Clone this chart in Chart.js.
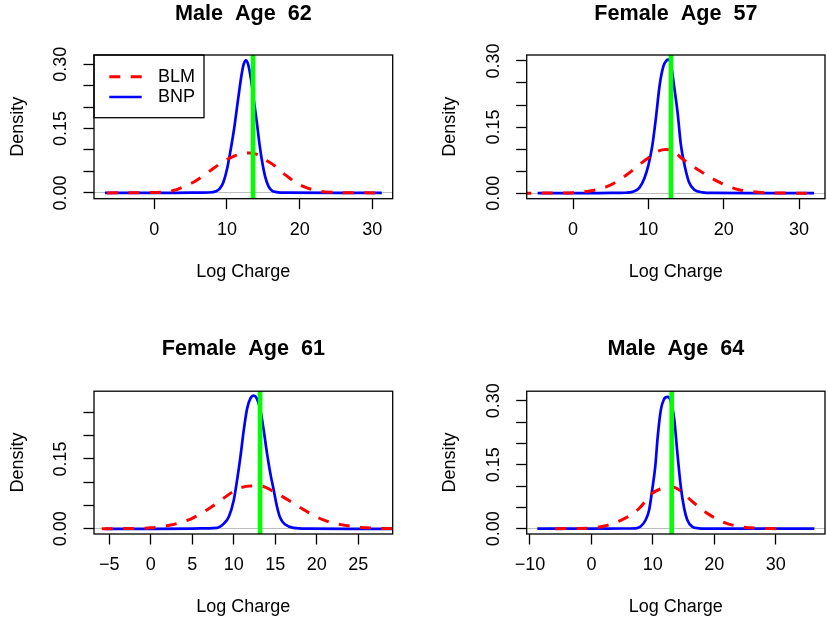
<!DOCTYPE html>
<html>
<head>
<meta charset="utf-8">
<script src="https://cdn.jsdelivr.net/npm/chart.js@4.4.1/dist/chart.umd.min.js"></script>
<style>
html,body{margin:0;padding:0;background:#fff;}
#wrap{position:relative;width:827px;height:625px;overflow:hidden;background:#fff;}
.pan{position:absolute;}
canvas{display:block;}
</style>
</head>
<body>
<div id="wrap">
  <div class="pan" style="left:0;top:0"><canvas id="c0" width="413" height="312"></canvas></div>
  <div class="pan" style="left:414px;top:0"><canvas id="c1" width="413" height="312"></canvas></div>
  <div class="pan" style="left:0;top:312px"><canvas id="c2" width="413" height="313"></canvas></div>
  <div class="pan" style="left:414px;top:312px"><canvas id="c3" width="413" height="313"></canvas></div>
</div>
<script>
// ---------------- data ----------------
const panelTitles = ['Male  Age  62', 'Female  Age  57', 'Female  Age  61', 'Male  Age  64'];
const seriesNames = ['BLM', 'BNP'];
const xAxisTitle = 'Log Charge';
const yAxisTitle = 'Density';
const observedLogCharge = [13.58, 13.0, 13.16, 13.07];

// Panel 1: Male Age 62
const bnpX1 = [-6.8, 0, 5, 7.5, 8.5, 9.0, 9.5, 10.0, 10.5, 11.0, 11.5, 12.0, 12.3, 12.6, 12.9, 13.3, 13.7, 14.1, 14.5, 14.9, 15.3, 15.7, 16.2, 16.8, 18, 25, 31.3];
const bnpY1 = [0, 0, 0.0005, 0.001, 0.004, 0.01, 0.025, 0.055, 0.10, 0.152, 0.215, 0.275, 0.300, 0.309, 0.300, 0.265, 0.215, 0.165, 0.11, 0.067, 0.035, 0.016, 0.005, 0.002, 0.0005, 0, 0];
const blmX1 = [-6.5, -3, 0, 2.5, 4.5, 5.5, 7, 8.2, 9.5, 10.9, 12, 13.2, 14.4, 15.5, 16.5, 17.5, 18.5, 19.5, 20.5, 21.5, 22.8, 24.5, 27, 31];
const blmY1 = [0, 0.0003, 0.001, 0.005, 0.018, 0.026, 0.043, 0.058, 0.073, 0.085, 0.091, 0.093, 0.088, 0.075, 0.064, 0.049, 0.036, 0.023, 0.015, 0.009, 0.004, 0.0015, 0.0003, 0];

// Panel 2: Female Age 57
const bnpX2 = [-4.7, 0, 5, 7.0, 7.9, 8.8, 9.5, 10.0, 10.5, 11.0, 11.5, 12.0, 12.4, 12.7, 13.0, 13.4, 13.9, 14.3, 14.8, 15.4, 16.1, 17.2, 18.5, 25, 32];
const bnpY2 = [0, 0, 0.0005, 0.001, 0.003, 0.012, 0.035, 0.063, 0.105, 0.17, 0.245, 0.288, 0.301, 0.303, 0.293, 0.245, 0.18, 0.112, 0.064, 0.025, 0.008, 0.002, 0.0005, 0, 0];
const blmX2 = [-7, -3, 0, 2.6, 4.8, 7.0, 9.2, 10.0, 11.0, 12.3, 13.2, 14.5, 15.5, 16.7, 18, 19.4, 20.7, 22.0, 24.7, 28, 32];
const blmY2 = [0, 0.0003, 0.001, 0.006, 0.017, 0.04, 0.07, 0.08, 0.093, 0.099, 0.097, 0.078, 0.066, 0.052, 0.038, 0.025, 0.015, 0.008, 0.002, 0.0003, 0];

// Panel 3: Female Age 61
const bnpX3 = [-5.5, 0, 5, 6.8, 8.0, 8.8, 9.4, 10.0, 10.4, 10.8, 11.2, 11.6, 12.0, 12.4, 12.7, 13.2, 13.6, 14.0, 14.4, 14.8, 15.2, 15.6, 16.2, 17.2, 18.8, 25, 29.5];
const bnpY3 = [0, 0, 0.0005, 0.001, 0.002, 0.011, 0.026, 0.062, 0.105, 0.155, 0.212, 0.258, 0.280, 0.286, 0.282, 0.255, 0.212, 0.162, 0.119, 0.084, 0.048, 0.023, 0.009, 0.002, 0.0003, 0, 0];
const blmX3 = [-5.9, -3, 0, 2.4, 4.8, 6.8, 8.8, 10.4, 12.0, 13.2, 14.8, 16.8, 18.8, 20.8, 22.9, 25.3, 27.5, 30];
const blmY3 = [0, 0.0005, 0.002, 0.008, 0.021, 0.041, 0.066, 0.085, 0.092, 0.092, 0.080, 0.059, 0.037, 0.019, 0.009, 0.003, 0.001, 0.0003];

// Panel 4: Male Age 64
const bnpX4 = [-8.8, 0, 5, 7.2, 8.0, 8.85, 9.4, 9.9, 10.4, 10.8, 11.3, 11.8, 12.4, 12.9, 13.5, 14.0, 14.55, 15.1, 15.6, 16.4, 17.5, 20, 36.3];
const bnpY4 = [0, 0, 0.0005, 0.001, 0.005, 0.021, 0.044, 0.091, 0.146, 0.216, 0.278, 0.303, 0.309, 0.300, 0.255, 0.177, 0.099, 0.048, 0.021, 0.005, 0.001, 0, 0];
const blmX4 = [-5.9, -3, 0, 2.3, 5.0, 7.8, 9.9, 11.6, 12.9, 14.3, 16.4, 19.2, 21.9, 24.6, 27.3, 30.3];
const blmY4 = [0, 0.0005, 0.0016, 0.007, 0.021, 0.048, 0.083, 0.095, 0.099, 0.091, 0.064, 0.033, 0.013, 0.004, 0.001, 0];

// axis ranges and ticks
const xMins = [-8.3, -6.15, -6.84, -10.53];
const xMaxs = [32.8, 33.45, 29.14, 38.03];
const yMins = [-0.0135, -0.0125, -0.0112, -0.0124];
const yMaxs = [0.3214, 0.3135, 0.2955, 0.3224];
const xTickValues = [[0, 10, 20, 30], [0, 10, 20, 30], [-5, 0, 5, 10, 15, 20, 25], [-10, 0, 10, 20, 30]];
const yTickValues = [0, 0.05, 0.10, 0.15, 0.20, 0.25, 0.30];
const yLabelledTicks = [0, 0.15, 0.30];

// ---------------- styling / layout ----------------
const FONT = "'Liberation Sans', Arial, Helvetica, sans-serif";
Chart.defaults.font.family = FONT;
Chart.defaults.font.size = 18;
Chart.defaults.color = '#000';

const panelLayout = [
  {pl: 0,    pr: 20.3, pb: 29.2, tp: 0.74,  tb: 28.34, legend: true},
  {pl: 18.7, pr: 2,    pb: 29.2, tp: 0.74,  tb: 28.34, legend: false},
  {pl: 0,    pr: 20.3, pb: 6.9,  tp: 23.74, tb: 29.54, legend: false},
  {pl: 18.7, pr: 2,    pb: 6.9,  tp: 23.74, tb: 29.54, legend: false}
];

const bnpXs = [bnpX1, bnpX2, bnpX3, bnpX4];
const bnpYs = [bnpY1, bnpY2, bnpY3, bnpY4];
const blmXs = [blmX1, blmX2, blmX3, blmX4];
const blmYs = [blmY1, blmY2, blmY3, blmY4];

const RED_DASH = [11, 10.4];

const framePlugin = {
  id: 'frame',
  afterInit(chart) {
    const lg = chart.legend;
    if (lg && chart.options.plugins.legend.display) {
      const orig = lg.update;
      lg.update = function (w, h, m) { orig.call(this, w, h, m); this.width = 0; this.height = 0; };
    }
  },
  afterLayout(chart) {
    const lg = chart.legend;
    if (lg && chart.options.plugins.legend.display) {
      const ca = chart.chartArea;
      lg.left = ca.left + 13;
      lg.top = ca.top + 10.4;
      lg.right = ca.left + 101;
      lg.bottom = ca.top + 120;
      lg.width = lg.right - lg.left;
      lg.height = lg.bottom - lg.top;
    }
  },
  afterDraw(chart) {
    const ctx = chart.ctx, ca = chart.chartArea;
    ctx.save();
    ctx.strokeStyle = '#000';
    ctx.lineWidth = 1.3;
    ctx.setLineDash([]);
    ctx.strokeRect(ca.left, ca.top, ca.right - ca.left, ca.bottom - ca.top);
    if (chart.options.plugins.legend.display) {
      ctx.strokeRect(ca.left, ca.top, 110, 62.7);
    }
    ctx.restore();
  }
};

function pts(xs, ys) { return xs.map((x, i) => ({x: x, y: ys[i]})); }

for (let p = 0; p < 4; p++) {
  const L = panelLayout[p];
  const datasets = [
    {
      data: [{x: observedLogCharge[p], y: yMins[p]}, {x: observedLogCharge[p], y: yMaxs[p]}],
      borderColor: '#00FF00', backgroundColor: '#00FF00', borderWidth: 4.6,
      pointRadius: 0, tension: 0, clip: 0, fill: false
    },
    {
      label: seriesNames[0],
      data: pts(blmXs[p], blmYs[p]),
      borderColor: '#FF0000', backgroundColor: '#FF0000', borderWidth: 3,
      borderDash: RED_DASH, pointRadius: 0, cubicInterpolationMode: 'monotone', clip: 0, fill: false
    },
    {
      label: seriesNames[1],
      data: pts(bnpXs[p], bnpYs[p]),
      borderColor: '#0000FF', backgroundColor: '#0000FF', borderWidth: 2.7,
      pointRadius: 0, cubicInterpolationMode: 'monotone', clip: 0, fill: false
    }
  ];

  new Chart(document.getElementById('c' + p), {
    type: 'line',
    data: {datasets: datasets},
    plugins: [framePlugin],
    options: {
      responsive: false,
      animation: false,
      devicePixelRatio: 1,
      events: [],
      layout: {padding: {left: L.pl, right: L.pr, top: 0, bottom: L.pb}},
      plugins: {
        tooltip: {enabled: false},
        title: {
          display: true, text: panelTitles[p], fullSize: false, color: '#000',
          font: {size: 21.6, weight: 'bold', family: FONT},
          padding: {top: L.tp, bottom: L.tb}
        },
        legend: {
          display: L.legend,
          position: 'left',
          align: 'start',
          labels: {
            usePointStyle: true,
            pointStyleWidth: 32.4,
            padding: 2.3,
            textAlign: 'right',
            color: '#000',
            font: {size: 18, family: FONT},
            generateLabels: (chart) => seriesNames.map((name) => {
              const idx = chart.data.datasets.findIndex(d => d.label === name);
              const ds = chart.data.datasets[idx];
              return {
                text: name, fillStyle: ds.borderColor, strokeStyle: ds.borderColor,
                lineWidth: ds.borderWidth, lineDash: ds.borderDash || [], lineCap: 'butt',
                pointStyle: 'line', fontColor: '#000', hidden: false, textAlign: 'right',
                datasetIndex: idx
              };
            })
          }
        }
      },
      scales: {
        x: {
          type: 'linear', position: 'bottom', bounds: 'data',
          min: xMins[p], max: xMaxs[p],
          afterBuildTicks: (s) => { s.ticks = xTickValues[p].map(v => ({value: v})); },
          afterFit: (s) => { s.height = 84.1; },
          border: {display: false},
          grid: {drawOnChartArea: false, drawTicks: true, tickLength: 10.5, tickWidth: 1.3, tickColor: '#000', color: '#000'},
          ticks: {
            autoSkip: false, maxRotation: 0, minRotation: 0, padding: 9.9, color: '#000',
            font: {size: 18, family: FONT},
            callback: (v) => String(v).replace('-', '\u2212')
          },
          title: {display: true, text: xAxisTitle, color: '#000', font: {size: 18, family: FONT}, padding: {top: 0, bottom: 0}}
        },
        y: {
          type: 'linear', position: 'left', bounds: 'data',
          min: yMins[p], max: yMaxs[p],
          afterBuildTicks: (s) => { s.ticks = yTickValues.filter(v => v <= yMaxs[p]).map(v => ({value: v})); },
          afterFit: (s) => { s.width = 94; },
          border: {display: false},
          grid: {
            drawOnChartArea: true, drawTicks: true, tickLength: 10.5, tickWidth: 1.3, tickColor: '#000', lineWidth: 1,
            color: (c) => (c.tick && Math.abs(c.tick.value) < 1e-9) ? '#BEBEBE' : 'rgba(0,0,0,0)'
          },
          ticks: {
            autoSkip: false, minRotation: 90, maxRotation: 90, crossAlign: 'center', padding: 5, color: '#000',
            font: {size: 18, family: FONT},
            callback: (v) => yLabelledTicks.some(t => Math.abs(t - v) < 1e-9) ? v.toFixed(2) : ''
          },
          title: {display: true, text: yAxisTitle, color: '#000', font: {size: 18, family: FONT}, padding: {top: 7, bottom: 0}}
        }
      }
    }
  });
}
</script>
</body>
</html>
